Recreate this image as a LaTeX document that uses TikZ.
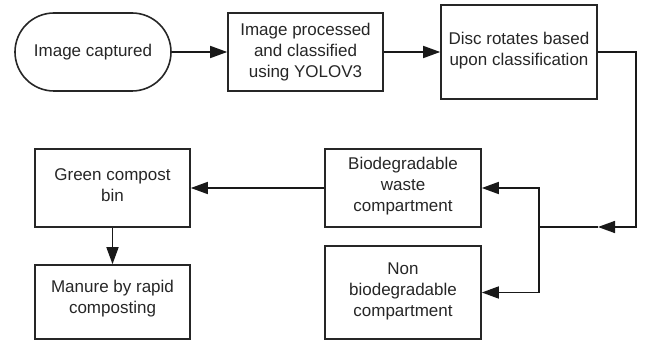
\documentclass[tikz,border=0pt]{standalone}
\usepackage{fontspec}
\setmainfont{Liberation Sans}
\usetikzlibrary{arrows.meta}
\begin{document}
\begin{tikzpicture}[x=1pt,y=-1pt,
  every node/.style={font=\fontsize{17}{21}\selectfont, align=center, text=black!85},
  boxnode/.style={draw=black!85, line width=1.6pt, inner sep=0pt},
  arr/.style={draw=black!90, line width=1.6pt, -{Triangle[length=17pt,width=12pt]}},
  ln/.style={draw=black!90, line width=1.6pt}]
\useasboundingbox (0,0) rectangle (656,342);
% nodes
\node[boxnode, rounded corners=39pt, minimum width=156pt, minimum height=78pt] (cap) at (93,52) {Image captured};
\node[boxnode, minimum width=155pt, minimum height=78pt] (proc) at (305.5,52) {Image processed\\and classified\\using YOLOV3};
\node[boxnode, minimum width=156pt, minimum height=94pt] (disc) at (519,52) {};
\node (disctext) at (519,51) {Disc rotates based\\upon classification};
\node[boxnode, minimum width=156pt, minimum height=78pt] (bio) at (403,188) {};
\node (biotext) at (403,186) {Biodegradable\\waste\\compartment};
\node[boxnode, minimum width=156pt, minimum height=93pt] (non) at (403,292.5) {};
\node (nontext) at (403,291) {Non\\biodegradable\\compartment};
\node[boxnode, minimum width=155pt, minimum height=78pt] (green) at (112.5,188) {};
\node (greentext) at (112.5,185.5) {Green compost\\bin};
\node[boxnode, minimum width=155pt, minimum height=74pt] (man) at (112.5,302) {};
\node (mantext) at (112.5,299) {Manure by rapid\\composting};
\coordinate (c) at (636,227);
\coordinate (j1) at (598,227);
\coordinate (j2) at (539,227);
% connectors
\draw[arr] (cap.east) -- (proc.west);
\draw[arr] (proc.east) -- (disc.west);
\draw[arr] (disc.east) -| (c) -- (j1);
\draw[ln] (j1) -- (j2);
\draw[arr] (j2) |- (bio.east);
\draw[arr] (j2) |- (non.east);
\draw[arr] (bio.west) -- (green.east);
\draw[arr] (green.south) -- (man.north);
\end{tikzpicture}
\end{document}
